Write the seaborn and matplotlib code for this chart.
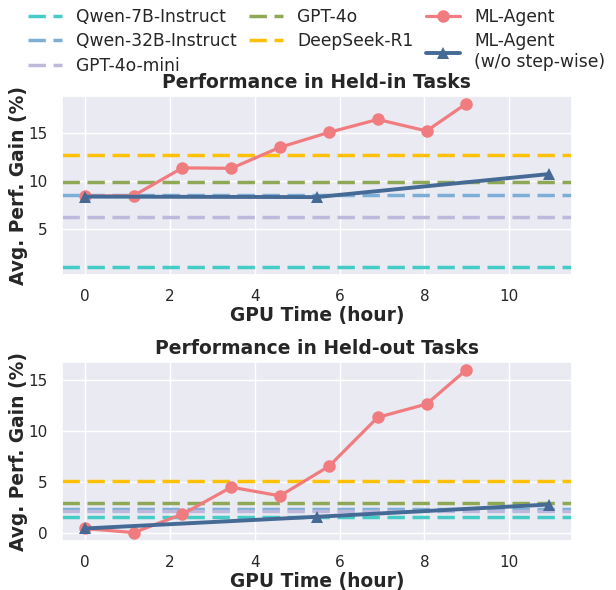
import matplotlib
matplotlib.use("Agg")
import matplotlib.pyplot as plt
import seaborn as sns
import pandas as pd
from matplotlib.lines import Line2D

sns.set_theme(style="darkgrid")
plt.rcParams['font.family'] = ['DejaVu Sans']

# GPU time (hours)
agent_x = [0, 1.15, 2.3, 3.45, 4.6, 5.75, 6.9, 8.05, 8.97]
noStep_x = [0, 5.47, 10.93]

# Held-in tasks
heldin_agent = [8.4, 8.45, 11.35, 11.3, 13.5, 15.05, 16.4, 15.2, 18.0]
heldin_nostep = [8.35, 8.3, 10.7]
heldin_base = {"Qwen-7B-Instruct": 1.05, "Qwen-32B-Instruct": 8.55, "GPT-4o-mini": 6.2,
               "GPT-4o": 9.85, "DeepSeek-R1": 12.65}

# Held-out tasks
heldout_agent = [0.4, 0.0, 1.8, 4.45, 3.6, 6.5, 11.3, 12.6, 15.9]
heldout_nostep = [0.4, 1.55, 2.75]
heldout_base = {"Qwen-7B-Instruct": 1.55, "Qwen-32B-Instruct": 2.35, "GPT-4o-mini": 2.15,
                "GPT-4o": 2.9, "DeepSeek-R1": 5.05}

base_colors = {"Qwen-7B-Instruct": "#45CCC6", "Qwen-32B-Instruct": "#7DAFD6",
               "GPT-4o-mini": "#BDB8DC", "GPT-4o": "#8FA856", "DeepSeek-R1": "#FFC107"}
agent_color = "#F07C80"
nostep_color = "#456A95"

fig = plt.figure(figsize=(6.16, 5.9), dpi=100)
ax1 = fig.add_axes([0.1, 0.5344, 0.8286, 0.3029])
ax2 = fig.add_axes([0.1, 0.0836, 0.8286, 0.3023])

def draw(ax, agent, nostep, base, title):
    for name, v in base.items():
        ax.axhline(v, color=base_colors[name], ls="--", lw=2.5, dashes=(5, 2.2))
    sns.lineplot(x=agent_x, y=agent, ax=ax, color=agent_color, marker="o",
                 markersize=9, lw=2.3, markeredgewidth=0)
    sns.lineplot(x=noStep_x, y=nostep, ax=ax, color=nostep_color, marker="^",
                 markersize=9, lw=2.8, markeredgewidth=0)
    ax.set_title(title, fontsize=13.5, fontweight="bold", pad=6)
    ax.set_xlabel("GPU Time (hour)", fontsize=13.4, fontweight="bold", labelpad=2)
    ax.set_ylabel("Avg. Perf. Gain (%)", fontsize=13.4, fontweight="bold")
    ax.yaxis.set_label_coords(-0.066, 0.5)
    ax.tick_params(labelsize=11, pad=4)
    ax.set_xticks([0, 2, 4, 6, 8, 10])

draw(ax1, heldin_agent, heldin_nostep, heldin_base, "Performance in Held-in Tasks")
draw(ax2, heldout_agent, heldout_nostep, heldout_base, "Performance in Held-out Tasks")
ax2.set_yticks([0, 5, 10, 15])

handles = [Line2D([], [], color=base_colors[n], ls="--", lw=2.5, dashes=(5, 2.2)) for n in base_colors]
labels = list(base_colors.keys())
blank = Line2D([], [], color="none")
handles = handles + [blank,
                     Line2D([], [], color=agent_color, marker="o", markersize=9, lw=2.3, markeredgewidth=0),
                     Line2D([], [], color=nostep_color, marker="^", markersize=9, lw=2.8, markeredgewidth=0)]
labels = labels + ["", "ML-Agent", "ML-Agent\n(w/o step-wise)"]
fig.legend(handles, labels, loc="upper left", bbox_to_anchor=(0.02, 1.013), ncol=3,
           frameon=False, fontsize=12.3, handlelength=2.0, columnspacing=0.75,
           labelspacing=0.38, handletextpad=0.8)

fig.savefig("out.png", dpi=100)
